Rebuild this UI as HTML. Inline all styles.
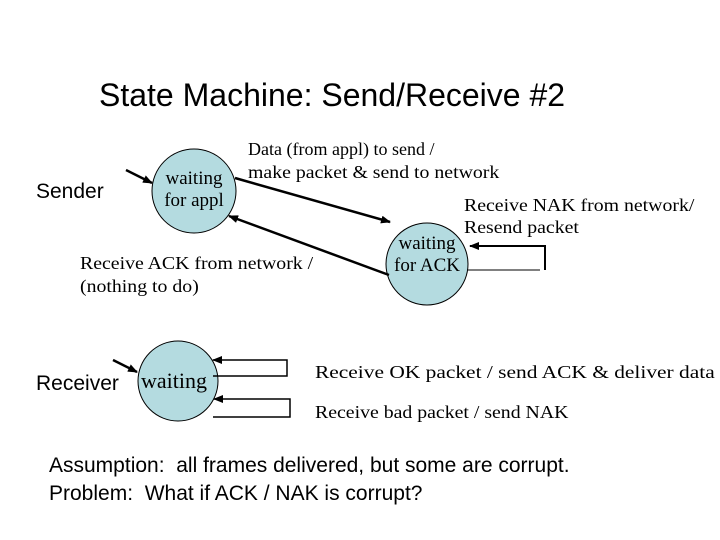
<!DOCTYPE html>
<html><head><style>
body{margin:0;width:720px;height:540px;background:#fff;overflow:hidden;position:relative}
.s{position:absolute;font-family:"Liberation Sans",sans-serif;color:#000;white-space:nowrap}
.t{position:absolute;font-family:"Liberation Serif",serif;color:#000;white-space:nowrap;font-size:18px;line-height:21px;transform-origin:0 0}
</style></head><body>
<div class="s" style="left:99px;top:75px;font-size:32px;line-height:40px">State Machine: Send/Receive #2</div>
<div class="s" style="left:36px;top:180px;font-size:21px">Sender</div>
<div class="s" style="left:36px;top:372px;font-size:21px">Receiver</div>
<svg width="720" height="540" style="position:absolute;left:0;top:0">
<defs><marker id="a" markerWidth="10" markerHeight="8" refX="9" refY="4" orient="auto" markerUnits="userSpaceOnUse"><path d="M0,0L10,4L0,8z" fill="#000"/></marker></defs>
<circle cx="194" cy="191" r="42" fill="#b4dbe0" stroke="#000" stroke-width="1"/>
<circle cx="427" cy="264" r="41" fill="#b4dbe0" stroke="#000" stroke-width="1"/>
<circle cx="178" cy="381" r="40" fill="#b4dbe0" stroke="#000" stroke-width="1"/>
<g stroke="#000" fill="none">
<line x1="126" y1="170" x2="152" y2="183" stroke-width="2.5" marker-end="url(#a)"/>
<line x1="113" y1="360" x2="137" y2="372" stroke-width="2.5" marker-end="url(#a)"/>
<line x1="235" y1="178" x2="390" y2="222" stroke-width="2.5" marker-end="url(#a)"/>
<line x1="389" y1="275" x2="229" y2="216" stroke-width="2.5" marker-end="url(#a)"/>
<polyline points="545,270 545,246 470,246" stroke-width="2" marker-end="url(#a)"/>
<line x1="467" y1="270" x2="540" y2="270" stroke-width="1"/>
<polyline points="213,376 287,376 287,360 213,360" stroke-width="1.5" marker-end="url(#a)"/>
<polyline points="213,417 290,417 290,399 214,399" stroke-width="1.5" marker-end="url(#a)"/>
</g>
</svg>
<div class="t" style="left:160px;top:168px;width:68px;text-align:center;font-size:19px;line-height:22px">waiting<br>for appl</div>
<div class="t" style="left:391px;top:233px;width:72px;text-align:center;font-size:19px;line-height:22px">waiting<br>for ACK</div>
<div class="t" style="left:141px;top:368px;font-size:22px;line-height:26px">waiting</div>
<div class="t" style="left:248px;top:139px">Data (from appl) to send /</div>
<div class="t" style="left:248px;top:162px;transform:scaleX(1.1)">make packet &amp; send to network</div>
<div class="t" style="left:464px;top:195px;transform:scaleX(1.1)">Receive NAK from network/</div>
<div class="t" style="left:464px;top:217px;transform:scaleX(1.1)">Resend packet</div>
<div class="t" style="left:80px;top:253px;transform:scaleX(1.1)">Receive ACK from network /</div>
<div class="t" style="left:80px;top:276px;transform:scaleX(1.1)">(nothing to do)</div>
<div class="t" style="left:315px;top:362px;transform:scaleX(1.19)">Receive OK packet / send ACK &amp; deliver data</div>
<div class="t" style="left:315px;top:402px;transform:scaleX(1.1)">Receive bad packet / send NAK</div>
<div class="s" style="left:49px;top:452px;font-size:21px;line-height:28px">Assumption:&nbsp; all frames delivered, but some are corrupt.<br>Problem:&nbsp; What if ACK / NAK is corrupt?</div>
</body></html>
